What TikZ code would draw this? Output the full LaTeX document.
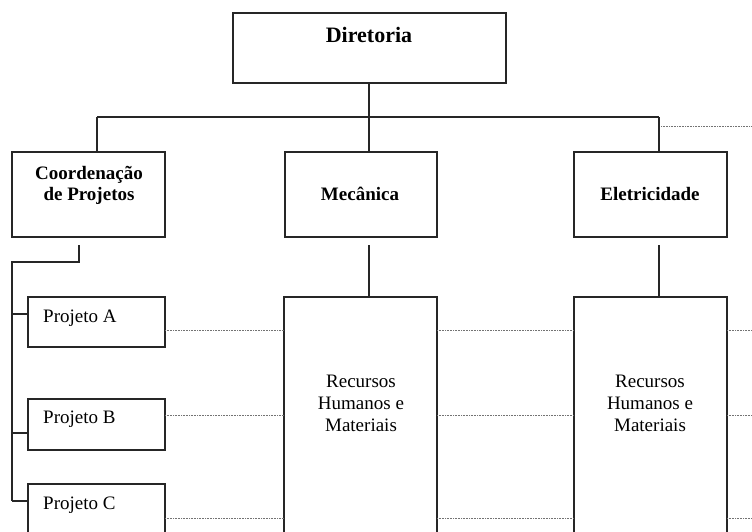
\documentclass[tikz,border=0pt]{standalone}
\usepackage{fontspec}
\setmainfont{Liberation Serif}
\begin{document}
\begin{tikzpicture}[x=1pt,y=-1pt,
  box/.style={draw=black!85, line width=1.1pt, inner sep=0pt, outer sep=0pt},
  conn/.style={draw=black!85, line width=1.1pt},
  dotline/.style={draw=black!55, line width=0.7pt, dash pattern=on 0.8pt off 0.8pt},
  head/.style={font=\fontsize{22}{24}\selectfont\bfseries, anchor=base, inner sep=0pt},
  unit/.style={font=\fontsize{19}{21}\selectfont\bfseries, anchor=base, inner sep=0pt},
  plain/.style={font=\fontsize{19}{22}\selectfont, anchor=base, inner sep=0pt}]
\useasboundingbox (0,0) rectangle (752,531);
\clip (0,0) rectangle (752,531);

% top level
\node[box, minimum width=273pt, minimum height=70pt] (dir) at (369.5,48) {};
\node[head] (dirtxt) at (369,42) {Diretoria};

% second level
\node[box, minimum width=153pt, minimum height=85pt] (coord) at (88.5,194.5) {};
\node[unit] (coordtxt1) at (89,179) {Coordenação};
\node[unit] (coordtxt2) at (89,200) {de Projetos};
\node[box, minimum width=152pt, minimum height=85pt] (mec) at (361,194.5) {};
\node[unit] (mectxt) at (360,200) {Mecânica};
\node[box, minimum width=153pt, minimum height=85pt] (elet) at (650.5,194.5) {};
\node[unit] (elettxt) at (650,200) {Eletricidade};

% projects
\node[box, minimum width=137pt, minimum height=50pt] (pa) at (96.5,322) {};
\node[plain, anchor=base west] (patxt) at (43,322) {Projeto A};
\node[box, minimum width=137pt, minimum height=51pt] (pb) at (96.5,424.5) {};
\node[plain, anchor=base west] (pbtxt) at (43,423) {Projeto B};
\node[box, minimum width=137pt, minimum height=76pt] (pc) at (96.5,522) {};
\node[plain, anchor=base west] (pctxt) at (43,509) {Projeto C};

% resources
\node[box, minimum width=153pt, minimum height=266pt] (recm) at (360.5,430) {};
\node[plain] (recmtxt1) at (361,387) {Recursos};
\node[plain] (recmtxt2) at (361,409) {Humanos e};
\node[plain] (recmtxt3) at (361,431) {Materiais};
\node[box, minimum width=153pt, minimum height=266pt] (rece) at (650.5,430) {};
\node[plain] (recetxt1) at (650,387) {Recursos};
\node[plain] (recetxt2) at (650,409) {Humanos e};
\node[plain] (recetxt3) at (650,431) {Materiais};

% bus from the board to the units
\coordinate (bus) at (369,117);
\coordinate (busL) at (97,117);
\coordinate (busR) at (659,117);
\draw[conn] (bus |- dir.south) -- (bus);
\draw[conn] (busL) -- (busR);
\draw[conn] (busL) -- (busL |- coord.north);
\draw[conn] (bus) -- (bus |- mec.north);
\draw[conn] (busR) -- (busR |- elet.north);
\coordinate (outS) at (661,126);
\coordinate (outE) at (752,126);
\draw[dotline] (outS) -- (outE);

% project spine
\coordinate (cdrop) at (79,245);
\coordinate (cbend) at (79,262);
\coordinate (cspine) at (12,262);
\coordinate (ja) at (12,314);
\coordinate (jb) at (12,433);
\coordinate (jc) at (12,501);
\draw[conn] (cdrop) -- (cbend) -- (cspine) -- (jc);
\draw[conn] (ja) -- (ja -| pa.west);
\draw[conn] (jb) -- (jb -| pb.west);
\draw[conn] (jc) -- (jc -| pc.west);

% resource drops
\coordinate (mdrop) at (369,245);
\coordinate (edrop) at (659,245);
\draw[conn] (mdrop) -- (mdrop |- recm.north);
\draw[conn] (edrop) -- (edrop |- rece.north);

% matrix rows
\foreach \r/\p/\y in {A/pa/330, B/pb/415, C/pc/518} {
  \coordinate (row\r) at (752,\y);
  \draw[dotline] (\p.east |- row\r) -- (recm.west |- row\r);
  \draw[dotline] (recm.east |- row\r) -- (rece.west |- row\r);
  \draw[dotline] (rece.east |- row\r) -- (row\r);
}
\end{tikzpicture}
\end{document}
